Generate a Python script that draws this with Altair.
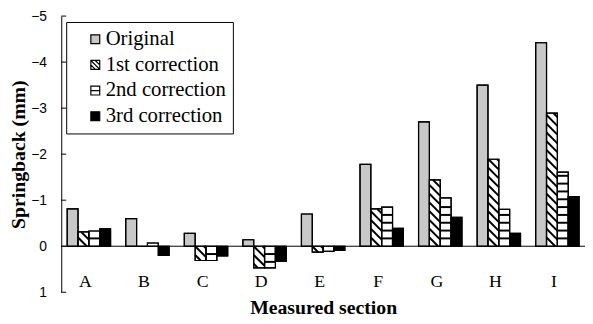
import json
import altair as alt
import pandas as pd

# ---- data ----
sections = ["A", "B", "C", "D", "E", "F", "G", "H", "I"]
series = ["Original", "1st correction", "2nd correction", "3rd correction"]
original = [-0.81, -0.60, -0.28, -0.14, -0.70, -1.78, -2.70, -3.50, -4.42]
first_corr = [-0.31, 0.00, 0.31, 0.47, 0.13, -0.81, -1.44, -1.89, -2.89]
second_corr = [-0.33, -0.07, 0.31, 0.47, 0.11, -0.85, -1.05, -0.80, -1.61]
third_corr = [-0.38, 0.20, 0.21, 0.33, 0.09, -0.39, -0.63, -0.28, -1.08]
y_ticks = [-5, -4, -3, -2, -1, 0, 1]

rows = []
for i, sec in enumerate(sections):
    for j, (name, vals) in enumerate(zip(series, [original, first_corr, second_corr, third_corr])):
        rows.append({"section": sec, "si": i, "series": name, "sj": j, "value": vals[i]})
df = pd.DataFrame(rows)

# ---- geometry helpers (scale units) ----
PX_X = 59.375          # px per section step
PX_Y = 46.667          # px per mm
BW = 11 / PX_X         # bar width in x units
K = PX_X / PX_Y        # 45-degree slope in data units
HG = 0.17              # spacing of horizontal hatch (mm)
DG = 0.19              # spacing of diagonal hatch (mm)

xs = alt.Scale(domain=[-0.4716, 8.4716], nice=False, zero=False)
ys = alt.Scale(domain=[-5, 1], reverse=True, nice=False, zero=False)

xaxis = alt.Axis(
    values=list(range(len(sections))),
    labelExpr=json.dumps(sections) + "[datum.value]",
    domain=False, ticks=False, grid=False,
    labelPadding=-20, labelOffset=-4, labelFlush=False, labelOverlap=False,
    labelFont="Liberation Serif", labelFontSize=18, labelColor="black",
    title="Measured section", titleFont="Liberation Serif", titleFontSize=20,
    titleFontWeight="bold", titleColor="black", titleY=6,
)
yaxis = alt.Axis(
    values=y_ticks, ticks=False, grid=False,
    domainColor="black", domainWidth=1,
    labelPadding=15, labelFlush=False, labelOverlap=False,
    labelFont="Liberation Sans", labelFontSize=14, labelColor="black",
    title="Springback (mm)", titleFont="Liberation Serif", titleFontSize=20,
    titleFontWeight="bold", titleColor="black", titleX=-43, titleY=140,
    titleBaseline="middle",
)

fill_colors = ["#c8c8c8", "white", "white", "black"]
shape_paths = [
    "M-1,-1H1V1H-1Z",
    "M-1,-1H1V1H-1Z M-1,-1L1,1 M-1,0L0,1 M0,-1L1,0",
    "M-1,-1H1V1H-1Z M-1,0H1",
    "M-1,-1H1V1H-1Z",
]

base = alt.Chart(df).transform_calculate(
    xl=f"datum.si - 2*{BW} + datum.sj*{BW}"
).transform_calculate(
    xr=f"datum.xl + {BW}"
).transform_calculate(
    fc=json.dumps(fill_colors) + "[datum.sj]"
)

X = lambda f: alt.X(f, type="quantitative", scale=xs, axis=xaxis)
Y = lambda f: alt.Y(f, type="quantitative", scale=ys, axis=yaxis)

bars = base.mark_rect(stroke="black", strokeWidth=1.2).encode(
    x=X("xl"), x2="xr:Q",
    y=Y("value"), y2=alt.datum(0),
    color=alt.Color("fc:N", scale=None),
)

# horizontal hatch for 2nd correction
hatch_h = base.transform_filter("datum.sj == 2").transform_calculate(
    hs=f"sequence(1, floor(abs(datum.value)/{HG} - 0.3) + 1)"
).transform_flatten(["hs"]).transform_calculate(
    hy=f"datum.hs * {HG} * (datum.value < 0 ? -1 : 1)"
).mark_rule(color="black", strokeWidth=2).encode(
    x=X("xl"), x2="xr:Q", y=Y("hy")
)

# diagonal hatch for 1st correction
hatch_d = base.transform_filter("datum.sj == 1").transform_calculate(
    vmin="min(datum.value, 0)"
).transform_calculate(
    vmax="max(datum.value, 0)"
).transform_calculate(
    dn=f"sequence(floor((datum.vmin - {K*BW})/{DG}), ceil(datum.vmax/{DG}) + 1)"
).transform_flatten(["dn"]).transform_calculate(
    c=f"datum.dn * {DG}"
).transform_calculate(
    us=f"max(0, (datum.vmin - datum.c)/{K})"
).transform_calculate(
    ue=f"min({BW}, (datum.vmax - datum.c)/{K})"
).transform_filter("datum.ue > datum.us + 0.01").transform_calculate(
    dx1="datum.xl + datum.us"
).transform_calculate(
    dx2="datum.xl + datum.ue"
).transform_calculate(
    dy1=f"datum.c + {K}*datum.us"
).transform_calculate(
    dy2=f"datum.c + {K}*datum.ue"
).mark_rule(color="black", strokeWidth=2).encode(
    x=X("dx1"), x2="dx2:Q", y=Y("dy1"), y2="dy2:Q"
)

outline = base.mark_rect(fillOpacity=0, stroke="black", strokeWidth=1.2).encode(
    x=X("xl"), x2="xr:Q", y=Y("value"), y2=alt.datum(0)
)

zero_line = alt.Chart(pd.DataFrame({"z": [0]})).mark_rule(color="black", strokeWidth=1).encode(
    y=Y("z")
)

tick_marks = alt.Chart(pd.DataFrame({"t": y_ticks})).mark_rule(color="black", strokeWidth=1).encode(
    y=Y("t"), x=alt.value(0), x2=alt.value(5)
)

legend_def = dict(
    title=None, symbolStrokeWidth=1.2, symbolOpacity=1, symbolSize=81,
)

# legend entries (points sit outside the plot domain and are clipped away)
legend_pts = alt.Chart(pd.DataFrame({"series": series})).mark_point(
    filled=True, clip=True, strokeWidth=1.2, size=81, opacity=1
).encode(
    x=alt.datum(-10), y=alt.datum(0),
    fill=alt.Fill("series:N", scale=alt.Scale(domain=series, range=fill_colors),
                  legend=alt.Legend(**legend_def)),
    stroke=alt.Stroke("series:N", scale=alt.Scale(domain=series, range=["black"] * 4),
                      legend=alt.Legend(**legend_def)),
    shape=alt.Shape("series:N", scale=alt.Scale(domain=series, range=shape_paths),
                    legend=alt.Legend(**legend_def)),
)

chart = alt.layer(
    bars, hatch_h, hatch_d, outline, zero_line, tick_marks, legend_pts
).properties(
    width=531, height=280,
    padding={"left": 54, "top": 6, "right": 0, "bottom": 30},
    autosize="none",
).configure_view(stroke=None).configure_legend(
    orient="none", legendX=5, legendY=6,
    strokeColor="black", fillColor="white", padding=7,
    symbolOffset=12, symbolSize=81, symbolStrokeWidth=1.2,
    symbolOpacity=1,
    labelFont="Liberation Serif", labelFontSize=21, labelColor="black",
    labelOffset=0, rowPadding=4,
)

chart.save("out.html", embed_options={"renderer": "svg", "actions": False})
